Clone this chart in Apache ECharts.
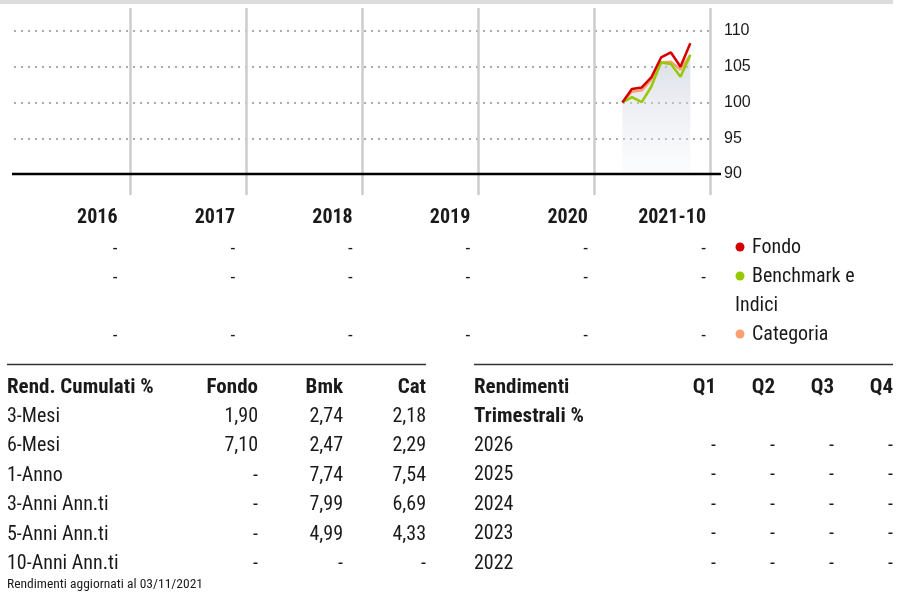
<!DOCTYPE html>
<html>
<head>
<meta charset="utf-8">
<script src="https://cdn.jsdelivr.net/npm/echarts@6/dist/echarts.min.js"></script>
<style>
  html, body { margin: 0; padding: 0; background: #ffffff; }
  #chart { width: 900px; height: 593px; }
</style>
</head>
<body>
<div id="chart"></div>
<script>
// Growth series (base 100), month-end dates
const dates = ['2021-03-31', '2021-04-30', '2021-05-31', '2021-06-30', '2021-07-31', '2021-08-31', '2021-09-30', '2021-10-31'];
const fondo = [100, 101.9, 102.1, 103.5, 106.3, 107.0, 105.0, 108.3];
const benchmark = [100, 100.75, 100.05, 102.2, 105.6, 105.4, 103.6, 106.6];
const categoria = [100, 101.5, 101.7, 103.2, 105.6, 105.7, 104.6, 106.7];

// Year columns and calendar-year returns under the chart
const yearLabels = ['2016', '2017', '2018', '2019', '2020', '2021-10'];
const annualFondo = ['-', '-', '-', '-', '-', '-'];
const annualBmk = ['-', '-', '-', '-', '-', '-'];
const annualCat = ['-', '-', '-', '-', '-', '-'];
const legendNames = ['Fondo', 'Benchmark e', 'Indici', 'Categoria'];

// Y axis
const yMin = 90, yMax = 110, yStep = 5;

// Cumulative returns table
const cumHeader = ['Rend. Cumulati %', 'Fondo', 'Bmk', 'Cat'];
const cumLabels = ['3-Mesi', '6-Mesi', '1-Anno', '3-Anni Ann.ti', '5-Anni Ann.ti', '10-Anni Ann.ti'];
const cumFondo = ['1,90', '7,10', '-', '-', '-', '-'];
const cumBmk = ['2,74', '2,47', '7,74', '7,99', '4,99', '-'];
const cumCat = ['2,18', '2,29', '7,54', '6,69', '4,33', '-'];
const footNote = 'Rendimenti aggiornati al 03/11/2021';

// Quarterly returns table
const qTitle = ['Rendimenti', 'Trimestrali %'];
const qHeaders = ['Q1', 'Q2', 'Q3', 'Q4'];
const qYears = ['2026', '2025', '2024', '2023', '2022'];
const qValues = [
  ['-', '-', '-', '-'],
  ['-', '-', '-', '-'],
  ['-', '-', '-', '-'],
  ['-', '-', '-', '-'],
  ['-', '-', '-', '-']
];

const C_RED = '#d40000', C_GREEN = '#95c900', C_ORANGE = '#f9a072';
const NARROW = '"Roboto Condensed", "Liberation Sans Narrow", "Arial Narrow", "DejaVu Sans Condensed", sans-serif';
const TEXT = '#1a1a1a';

const chart = echarts.init(document.getElementById('chart'), null, { renderer: 'canvas' });

const GL = 14, GW = 696;

const option = {
  animation: false,
  backgroundColor: '#ffffff',
  grid: [
    { left: GL, width: GW, top: 31, height: 143 },
    { left: GL, width: GW, top: 8, height: 187 }
  ],
  xAxis: [
    {
      type: 'time', gridIndex: 0,
      min: '2016-01-01', max: '2022-01-01',
      axisLine: { show: false }, axisTick: { show: false },
      axisLabel: { show: false }, splitLine: { show: false }
    },
    {
      type: 'value', gridIndex: 1,
      min: 2016, max: 2022, interval: 1,
      axisLine: { show: false }, axisTick: { show: false },
      axisLabel: { show: false },
      splitLine: { show: true, showMinLine: false, lineStyle: { color: '#cdcdcd', width: 2.5 } }
    }
  ],
  yAxis: [
    {
      type: 'value', gridIndex: 0, position: 'right',
      min: yMin, max: yMax, interval: yStep,
      axisLine: { show: false }, axisTick: { show: false },
      axisLabel: {
        margin: 14, color: '#1a1a1a', fontSize: 16,
        fontFamily: '"Liberation Sans", Arial, sans-serif'
      },
      splitLine: { show: true, lineStyle: { color: '#ababab', width: 2, type: [2, 5] } }
    },
    {
      type: 'value', gridIndex: 1, min: 0, max: 1,
      show: false, splitLine: { show: false }
    }
  ],
  series: [
    {
      name: 'Categoria', type: 'line', xAxisIndex: 0, yAxisIndex: 0,
      data: dates.map((d, i) => [d, categoria[i]]),
      symbol: 'none', z: 2,
      lineStyle: { color: C_ORANGE, width: 2.5 },
      areaStyle: {
        origin: 'start',
        color: new echarts.graphic.LinearGradient(0, 0, 0, 1, [
          { offset: 0, color: 'rgba(190,196,212,0.8)' },
          { offset: 1, color: 'rgba(240,242,247,0.35)' }
        ])
      }
    },
    {
      name: 'Benchmark e Indici', type: 'line', xAxisIndex: 0, yAxisIndex: 0,
      data: dates.map((d, i) => [d, benchmark[i]]),
      symbol: 'none', z: 3,
      lineStyle: { color: C_GREEN, width: 2.5 }
    },
    {
      name: 'Fondo', type: 'line', xAxisIndex: 0, yAxisIndex: 0,
      data: dates.map((d, i) => [d, fondo[i]]),
      symbol: 'none', z: 4,
      lineStyle: { color: C_RED, width: 2.5 }
    }
  ]
};

chart.setOption(option);

// Static decorations and tables drawn as graphic elements
function txt(text, x, y, opts) {
  opts = opts || {};
  return {
    type: 'text', silent: true, z: 10,
    style: {
      text: text, x: x, y: y + 2,
      font: (opts.bold ? 'bold ' : '') + (opts.size || 20) + 'px ' + (opts.family || NARROW),
      fill: opts.color || TEXT,
      textAlign: opts.align || 'left',
      textVerticalAlign: 'middle'
    }
  };
}

const els = [];

// top band
els.push({ type: 'rect', silent: true, shape: { x: 0, y: 0, width: 893, height: 4 }, style: { fill: '#dcdcdc' } });

// baseline at the axis minimum, running out to the label
const baseY = chart.convertToPixel({ yAxisIndex: 0 }, yMin);
els.push({
  type: 'line', silent: true, z: 5,
  shape: { x1: 12, y1: baseY, x2: 721, y2: baseY },
  style: { stroke: '#000', lineWidth: 2.5 }
});

// year header row and calendar-year return rows
const colRight = i => (i === yearLabels.length - 1) ? 706 : 117.5 + i * 117.6;
yearLabels.forEach((y, i) => els.push(txt(y, colRight(i), 216, { bold: true, size: 20, align: 'right' })));
[annualFondo, annualBmk, annualCat].forEach((row, r) => {
  const yy = [247, 276, 334][r];
  row.forEach((v, i) => els.push(txt(v, colRight(i), yy, { size: 19, align: 'right' })));
});

// legend
const legendDots = [[C_RED, 247], [C_GREEN, 276], [C_ORANGE, 334]];
legendDots.forEach(([c, y]) => els.push({ type: 'circle', silent: true, shape: { cx: 740, cy: y, r: 4.5 }, style: { fill: c } }));
els.push(txt(legendNames[0], 752, 246));
els.push(txt(legendNames[1], 752, 275));
els.push(txt(legendNames[2], 735, 304));
els.push(txt(legendNames[3], 752, 333));

// cumulative returns table
els.push({ type: 'line', silent: true, shape: { x1: 7, y1: 364.5, x2: 426, y2: 364.5 }, style: { stroke: '#333', lineWidth: 1.5 } });
const cumCols = [258, 343, 426];
els.push(txt(cumHeader[0], 7, 386, { bold: true, size: 21 }));
cumHeader.slice(1).forEach((h, i) => els.push(txt(h, cumCols[i], 386, { bold: true, size: 21, align: 'right' })));
cumLabels.forEach((lab, r) => {
  const y = 415 + r * 29.4;
  els.push(txt(lab, 7, y));
  els.push(txt(cumFondo[r], cumCols[0], y, { align: 'right' }));
  els.push(txt(cumBmk[r], cumCols[1], y, { align: 'right' }));
  els.push(txt(cumCat[r], cumCols[2], y, { align: 'right' }));
});
els.push(txt(footNote, 7, 583, { size: 13.5 }));

// quarterly returns table
els.push({ type: 'line', silent: true, shape: { x1: 474, y1: 364.5, x2: 893, y2: 364.5 }, style: { stroke: '#333', lineWidth: 1.5 } });
const qCols = [716, 775, 834, 893];
els.push(txt(qTitle[0], 474, 386, { bold: true, size: 21 }));
els.push(txt(qTitle[1], 474, 415, { bold: true, size: 21 }));
qHeaders.forEach((h, i) => els.push(txt(h, qCols[i], 386, { bold: true, size: 21, align: 'right' })));
qYears.forEach((yr, r) => {
  const y = 444 + r * 29.4;
  els.push(txt(yr, 474, y));
  qValues[r].forEach((v, i) => els.push(txt(v, qCols[i], y, { align: 'right' })));
});

chart.setOption({ graphic: { elements: els } });
</script>
</body>
</html>
